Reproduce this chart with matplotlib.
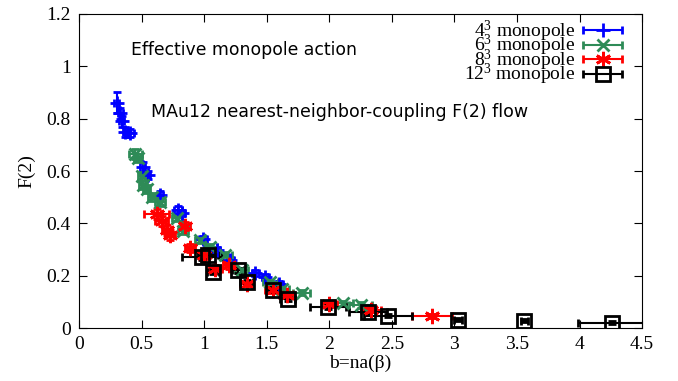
import matplotlib
matplotlib.use("Agg")
import matplotlib.pyplot as plt
from matplotlib.container import ErrorbarContainer
from matplotlib.legend_handler import HandlerErrorbar

plt.rcParams['font.family'] = ['Liberation Serif', 'DejaVu Serif']
plt.rcParams['mathtext.fontset'] = 'custom'
plt.rcParams['mathtext.rm'] = 'Liberation Serif'
plt.rcParams['mathtext.it'] = 'Liberation Serif:italic'

# 4^3 monopole
b4 = [0.30, 0.33, 0.34, 0.37, 0.41, 0.51, 0.55, 0.65, 0.79, 0.82, 0.99, 1.10, 1.21, 1.41, 1.49, 1.60]
f4 = [0.86, 0.82, 0.79, 0.75, 0.745, 0.615, 0.585, 0.51, 0.45, 0.44, 0.34, 0.30, 0.26, 0.21, 0.195, 0.17]
b4_err = [0.02, 0.02, 0.02, 0.02, 0.03, 0.02, 0.02, 0.02, 0.03, 0.03, 0.03, 0.03, 0.03, 0.03, 0.03, 0.03]
f4_err = [0.04, 0.02, 0.02, 0.02, 0.015, 0.02, 0.015, 0.015, 0.015, 0.01, 0.01, 0.01, 0.01, 0.01, 0.01, 0.01]

# 6^3 monopole
b6 = [0.45, 0.47, 0.50, 0.51, 0.54, 0.58, 0.65, 0.78, 0.83, 0.97, 1.05, 1.17, 1.30, 1.53, 1.62, 1.78, 2.11, 2.25]
f6 = [0.665, 0.65, 0.58, 0.545, 0.53, 0.50, 0.48, 0.42, 0.37, 0.335, 0.31, 0.28, 0.22, 0.175, 0.15, 0.135, 0.095, 0.088]
b6_err = [0.05, 0.03, 0.03, 0.03, 0.03, 0.03, 0.04, 0.04, 0.04, 0.04, 0.05, 0.05, 0.05, 0.06, 0.06, 0.07, 0.08, 0.09]
f6_err = [0.02, 0.015, 0.015, 0.015, 0.015, 0.015, 0.015, 0.01, 0.01, 0.01, 0.01, 0.01, 0.01, 0.01, 0.01, 0.01, 0.01, 0.01]

# 8^3 monopole
b8 = [0.62, 0.66, 0.70, 0.73, 0.85, 0.89, 1.00, 1.09, 1.20, 1.34, 1.55, 1.66, 2.00, 2.33, 2.82]
f8 = [0.435, 0.41, 0.375, 0.355, 0.39, 0.305, 0.28, 0.225, 0.24, 0.17, 0.145, 0.126, 0.09, 0.07, 0.047]
b8_err = [0.10, 0.05, 0.04, 0.04, 0.04, 0.04, 0.05, 0.05, 0.05, 0.05, 0.06, 0.06, 0.06, 0.08, 0.16]
f8_err = [0.02, 0.02, 0.02, 0.02, 0.015, 0.015, 0.015, 0.015, 0.015, 0.01, 0.01, 0.01, 0.01, 0.01, 0.008]

# 12^3 monopole
b12 = [0.98, 1.03, 1.07, 1.27, 1.34, 1.55, 1.67, 1.99, 2.31, 2.47, 3.03, 3.56, 4.26]
f12 = [0.27, 0.28, 0.215, 0.22, 0.175, 0.147, 0.11, 0.08, 0.06, 0.047, 0.032, 0.028, 0.02]
b12_err = [0.16, 0.08, 0.05, 0.05, 0.05, 0.05, 0.06, 0.14, 0.15, 0.19, 0.03, 0.03, 0.27]
f12_err = [0.01, 0.01, 0.01, 0.01, 0.01, 0.01, 0.008, 0.008, 0.006, 0.006, 0.005, 0.005, 0.005]

series = [
    (b4, f4, b4_err, f4_err, '#0000ff', '+', 10, r'$4^3$ monopole'),
    (b6, f6, b6_err, f6_err, '#2e8b57', 'x', 9, r'$6^3$ monopole'),
    (b8, f8, b8_err, f8_err, '#ff0000', (6, 2, 0), 11, r'$8^3$ monopole'),
    (b12, f12, b12_err, f12_err, '#000000', 's', 10, r'$12^3$ monopole'),
]

fig = plt.figure(figsize=(6.78, 3.81), dpi=100)
ax = fig.add_axes([0.1165, 0.139, 0.8305, 0.8243])

handles = []
for x, y, xe, ye, c, m, ms, lab in series:
    cont = ax.errorbar(x, y, xerr=xe, yerr=ye, marker=m, linestyle='none',
                       color=c, ms=ms, mew=2, mfc='none', elinewidth=1.5,
                       capsize=3, capthick=1.5)
    # legend entry like gnuplot: only the horizontal bar
    line, caps, bars = cont.lines
    h = ErrorbarContainer((line, caps, bars), has_xerr=True, has_yerr=False,
                          label=lab)
    handles.append(h)

ax.set_xlim(0, 4.5)
ax.set_ylim(0, 1.2)
ax.set_xticks([0, 0.5, 1, 1.5, 2, 2.5, 3, 3.5, 4, 4.5])
ax.set_xticklabels(['0', '0.5', '1', '1.5', '2', '2.5', '3', '3.5', '4', '4.5'])
ax.set_yticks([0, 0.2, 0.4, 0.6, 0.8, 1.0, 1.2])
ax.set_yticklabels(['0', '0.2', '0.4', '0.6', '0.8', '1', '1.2'])
ax.tick_params(direction='in', top=True, right=True, length=6, labelsize=14, pad=6)
ax.set_xlabel('b=na(β)', fontsize=14, labelpad=1)
ax.set_ylabel('F(2)', fontsize=14, labelpad=8)

ax.text(0.416, 1.062, 'Effective monopole action', fontsize=12.4,
        family='DejaVu Sans', va='center')
ax.text(0.575, 0.825, 'MAu12 nearest-neighbor-coupling F(2) flow', fontsize=12.5,
        family='DejaVu Sans', va='center')

ax.legend(handles=handles, loc='upper right',
          bbox_to_anchor=((622 - 79) / 563, 0.985),
          handler_map={ErrorbarContainer: HandlerErrorbar(xerr_size=1.0)},
          markerfirst=False, frameon=False, fontsize=14, labelspacing=-0.55,
          handlelength=2.0, handletextpad=0.4, borderaxespad=0, borderpad=0,
          alignment='right')

fig.savefig('out.png', dpi=100)
